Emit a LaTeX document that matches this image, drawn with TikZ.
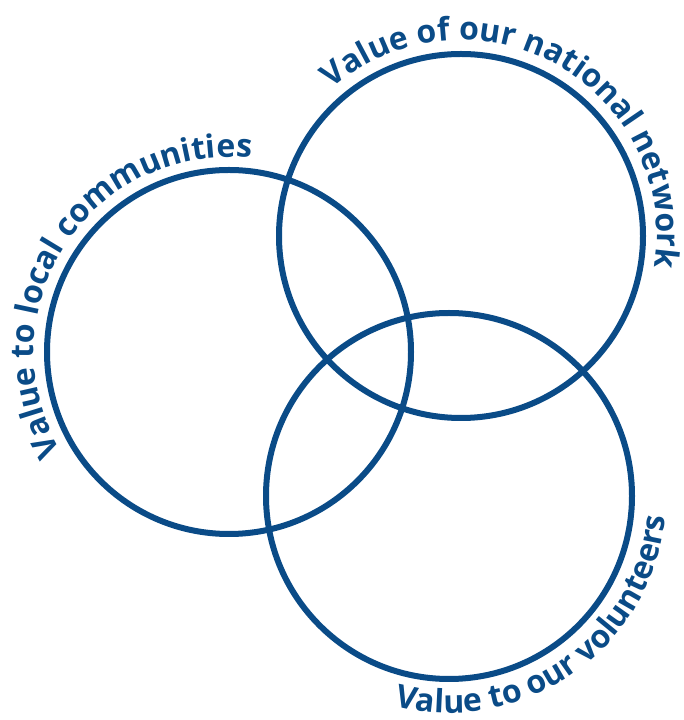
\documentclass[tikz,border=0pt]{standalone}
\usepackage{fontspec}
\setmainfont{Open Sans}
\usetikzlibrary{decorations.text,calc}
\definecolor{vblue}{RGB}{10,75,135}
\tikzset{
  ring/.style={draw=vblue, line width=6pt},
  arclabel/.style={decorate, decoration={text along path, text align=center, text={#1}}}
}
\newcommand{\lblfont}{\color{vblue}\bfseries\fontsize{32}{32}\selectfont}
\begin{document}
\begin{tikzpicture}[x=1pt,y=1pt]
  \useasboundingbox (0,0) rectangle (683,720);
  % circle centres
  \coordinate (cL) at (229,368);
  \coordinate (cT) at (461,484);
  \coordinate (cB) at (449,224);
  % the three rings
  \draw[ring] (cL) circle[radius=182];
  \draw[ring] (cT) circle[radius=182];
  \draw[ring] (cB) circle[radius=183];
  % labels running round the rings
  \path[arclabel={|\lblfont|Value to local communities}]
    ($(cL)+(216:195)$) arc[start angle=216, end angle=78, radius=195];
  \path[arclabel={|\lblfont|Value of our national network}]
    ($(cT)+(135:196)$) arc[start angle=135, end angle=-13, radius=196];
  \path[arclabel={|\lblfont|Value to our volunteers}]
    ($(cB)+(-114:217)$) arc[start angle=-114, end angle=4, radius=217];
\end{tikzpicture}
\end{document}
